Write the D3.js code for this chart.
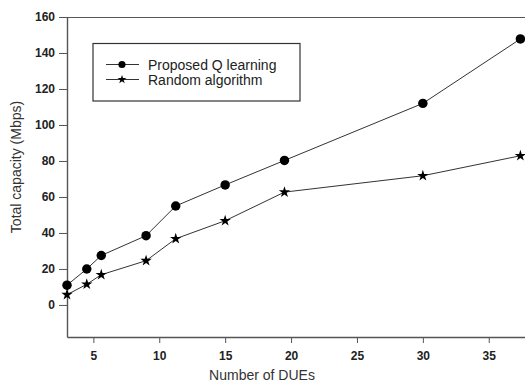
<!DOCTYPE html>
<html>
<head>
<meta charset="utf-8">
<script src="https://cdn.jsdelivr.net/npm/d3@7"></script>
<style>
  html, body { margin: 0; padding: 0; background: #fff; }
  svg { display: block; }
  text { font-family: Arial, "Liberation Sans", sans-serif; }
</style>
</head>
<body>
<svg id="chart" width="525" height="385"></svg>
<script>
// Number of DUEs on the x axis
const dues = [3, 4.5, 5.6, 9, 11.25, 15, 19.5, 30, 37.4];
// Total capacity (Mbps) for each scheme
const proposedQ = [11, 20, 27.5, 38.5, 55, 66.7, 80.3, 112, 147.8];
const randomAlg = [5.7, 11.5, 16.8, 24.6, 36.8, 46.8, 62.7, 71.8, 82.9];
const seriesNames = ["Proposed Q learning", "Random algorithm"];
const xTicks = [5, 10, 15, 20, 25, 30, 35];
const yTicks = [0, 20, 40, 60, 80, 100, 120, 140, 160];

const svg = d3.select("#chart");
const plot = { left: 67, right: 525, top: 17, bottom: 337 };

const x = d3.scaleLinear().domain([3, 37.75]).range([plot.left, plot.right]);
const y = d3.scaleLinear().domain([-17.8, 160]).range([plot.bottom, plot.top]);

const axisColor = "#555";

// Top frame line
svg.append("line")
  .attr("x1", plot.left).attr("x2", plot.right)
  .attr("y1", plot.top + 0.5).attr("y2", plot.top + 0.5)
  .attr("stroke", axisColor).attr("stroke-width", 1.2);

// Y axis
const yAxis = svg.append("g")
  .attr("transform", `translate(${plot.left},0)`)
  .call(d3.axisLeft(y).tickValues(yTicks).tickSize(8).tickPadding(4).tickSizeOuter(0));
yAxis.select(".domain").attr("stroke", axisColor).attr("stroke-width", 1.4);
yAxis.selectAll(".tick line").attr("stroke", axisColor);
yAxis.selectAll(".tick text")
  .attr("font-size", 12).attr("font-weight", "bold").attr("fill", "#222")
  .attr("font-family", "Arial, 'Liberation Sans', sans-serif");

// X axis
const xAxis = svg.append("g")
  .attr("transform", `translate(0,${plot.bottom})`)
  .call(d3.axisBottom(x).tickValues(xTicks).tickSize(6).tickPadding(8).tickSizeOuter(0));
xAxis.select(".domain").attr("stroke", axisColor).attr("stroke-width", 1.4);
xAxis.selectAll(".tick line").attr("stroke", axisColor);
xAxis.selectAll(".tick text")
  .attr("font-size", 12).attr("font-weight", "bold").attr("fill", "#222")
  .attr("font-family", "Arial, 'Liberation Sans', sans-serif");

// Axis titles
svg.append("text")
  .attr("x", 262).attr("y", 380)
  .attr("text-anchor", "middle")
  .attr("font-size", 14).attr("fill", "#333")
  .text("Number of DUEs");

svg.append("text")
  .attr("transform", "translate(21,167) rotate(-90)")
  .attr("text-anchor", "middle")
  .attr("font-size", 14).attr("fill", "#333")
  .text("Total capacity (Mbps)");

// Series lines and markers
const line = d3.line().x(d => x(d[0])).y(d => y(d[1]));

const series = [
  { name: seriesNames[0], values: proposedQ, type: d3.symbolCircle, size: 70, legendSize: 40 },
  { name: seriesNames[1], values: randomAlg, type: d3.symbolStar, size: 40, legendSize: 24 }
];

series.forEach(s => {
  const pts = dues.map((d, i) => [d, s.values[i]]);
  svg.append("path")
    .datum(pts)
    .attr("d", line)
    .attr("fill", "none")
    .attr("stroke", "#333")
    .attr("stroke-width", 1);
  svg.append("g").selectAll("path")
    .data(pts)
    .join("path")
    .attr("transform", d => `translate(${x(d[0])},${y(d[1])})`)
    .attr("d", d3.symbol().type(s.type).size(s.size)())
    .attr("fill", "#000");
});

// Legend
const legend = svg.append("g");
legend.append("rect")
  .attr("x", 93).attr("y", 43.5).attr("width", 207).attr("height", 57.5)
  .attr("fill", "#fff").attr("stroke", "#333").attr("stroke-width", 1.2);

series.forEach((s, i) => {
  const ly = 64.5 + i * 15;
  legend.append("line")
    .attr("x1", 106).attr("x2", 139).attr("y1", ly).attr("y2", ly)
    .attr("stroke", "#333").attr("stroke-width", 1);
  legend.append("path")
    .attr("transform", `translate(122,${ly})`)
    .attr("d", d3.symbol().type(s.type).size(s.legendSize)())
    .attr("fill", "#000");
  legend.append("text")
    .attr("x", 148).attr("y", ly + 5)
    .attr("font-size", 14).attr("fill", "#222")
    .text(s.name);
});
</script>
</body>
</html>
